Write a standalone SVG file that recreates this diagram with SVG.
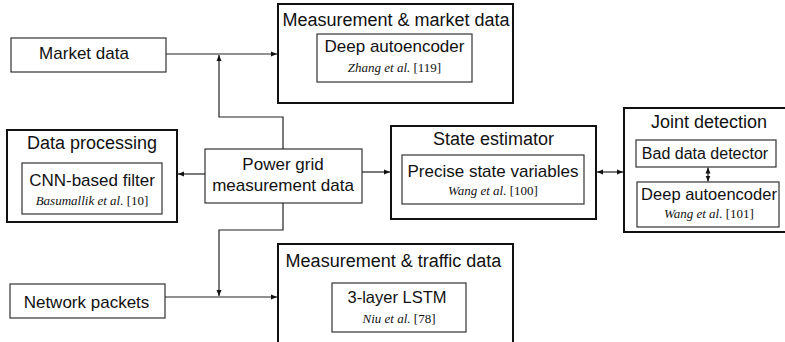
<svg xmlns="http://www.w3.org/2000/svg" width="785" height="342" viewBox="0 0 785 342">
<defs>
<marker id="ah" viewBox="0 0 6 6" refX="6" refY="3" markerWidth="6" markerHeight="6" markerUnits="userSpaceOnUse" orient="auto-start-reverse">
<path d="M0,0.5 L6,3 L0,5.5 Z" fill="#111"/>
</marker>
<style>
.outer{fill:#fff;stroke:#111;stroke-width:2}
.inner{fill:#fff;stroke:#333;stroke-width:1.2}
.t{font-family:"Liberation Sans",Arial,sans-serif;font-size:17px;fill:#111;text-anchor:middle}
.h{font-size:18px}
.c{font-family:"Liberation Serif","Times New Roman",serif;font-size:13px;fill:#111;text-anchor:middle}
.c tspan.i{font-style:italic}
.ln{fill:none;stroke:#222;stroke-width:1.2}
</style>
</defs>
<rect width="785" height="342" fill="#fff"/>

<g id="market-data">
<rect class="inner" x="11" y="38" width="155" height="34"/>
<text class="t" x="84" y="59">Market data</text>
</g>

<g id="network-packets">
<rect class="inner" x="10" y="284" width="155" height="34"/>
<text class="t" x="86.5" y="308">Network packets</text>
</g>

<g id="power-grid">
<rect class="inner" x="205" y="149" width="157" height="54"/>
<text class="t" x="283" y="170">Power grid</text>
<text class="t" x="283" y="191">measurement data</text>
</g>

<g id="measurement-market">
<rect class="outer" x="278" y="4" width="235" height="99"/>
<text class="t h" x="396" y="26">Measurement &amp; market data</text>
<rect class="inner" x="317" y="34" width="155" height="48"/>
<text class="t" x="394.5" y="52">Deep autoencoder</text>
<text class="c" x="394.5" y="72"><tspan class="i">Zhang et al.</tspan> [119]</text>
</g>

<g id="data-processing">
<rect class="outer" x="7" y="130" width="170" height="92"/>
<text class="t h" x="92" y="149">Data processing</text>
<rect class="inner" x="22" y="163" width="140" height="51"/>
<text class="t" x="92" y="186">CNN-based filter</text>
<text class="c" x="92" y="205"><tspan class="i">Basumallik et al.</tspan> [10]</text>
</g>

<g id="state-estimator">
<rect class="outer" x="391" y="126" width="205" height="93"/>
<text class="t h" x="493.5" y="145">State estimator</text>
<rect class="inner" x="402" y="155" width="182" height="49"/>
<text class="t" x="493" y="177">Precise state variables</text>
<text class="c" x="493" y="195"><tspan class="i">Wang et al.</tspan> [100]</text>
</g>

<g id="joint-detection">
<rect class="outer" x="624" y="108" width="175" height="124"/>
<text class="t h" x="709" y="128">Joint detection</text>
<rect class="inner" x="636" y="140" width="140" height="27"/>
<text class="t" x="705" y="159" style="font-size:16px">Bad data detector</text>
<rect class="inner" x="637" y="182" width="142" height="45"/>
<text class="t" x="709" y="200" style="font-size:16.5px">Deep autoencoder</text>
<text class="c" x="709" y="218"><tspan class="i">Wang et al.</tspan> [101]</text>
</g>

<g id="measurement-traffic">
<rect class="outer" x="278" y="244" width="235" height="110"/>
<text class="t h" x="393.5" y="267">Measurement &amp; traffic data</text>
<rect class="inner" x="332" y="283" width="134" height="49"/>
<text class="t" x="397" y="303" style="font-size:16.5px">3-layer LSTM</text>
<text class="c" x="399" y="323"><tspan class="i">Niu et al.</tspan> [78]</text>
</g>

<g id="connectors">
<path class="ln" d="M166,54 H277" marker-end="url(#ah)"/>
<path class="ln" d="M283,149 V117 H219 V55" marker-end="url(#ah)"/>
<path class="ln" d="M205,174 H178" marker-end="url(#ah)"/>
<path class="ln" d="M362,172 H390" marker-end="url(#ah)"/>
<path class="ln" d="M597,172 H623" marker-start="url(#ah)" marker-end="url(#ah)"/>
<path class="ln" d="M708,167.5 V181.5" marker-start="url(#ah)" marker-end="url(#ah)"/>
<path class="ln" d="M283,203 V230 H219 V296" marker-end="url(#ah)"/>
<path class="ln" d="M165,297 H277" marker-end="url(#ah)"/>
</g>
</svg>
